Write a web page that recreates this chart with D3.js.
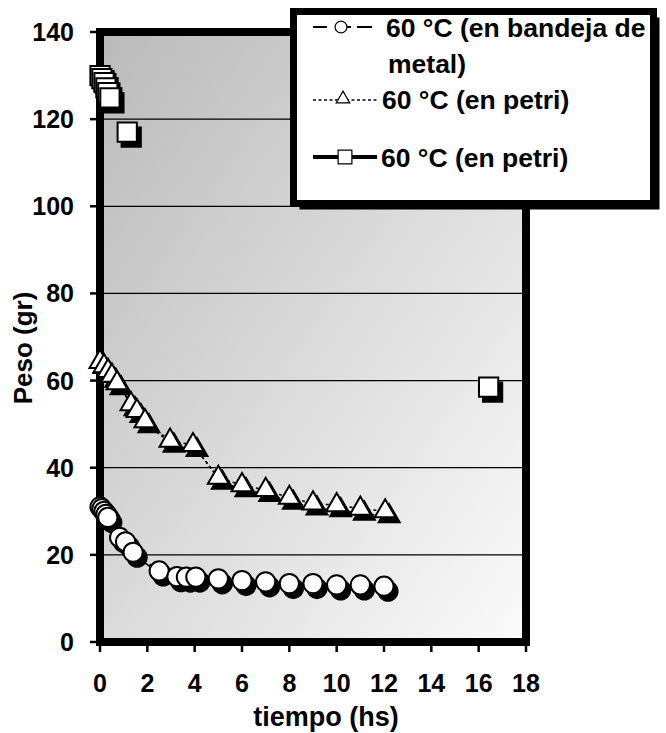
<!DOCTYPE html>
<html>
<head>
<meta charset="utf-8">
<script src="https://cdn.jsdelivr.net/npm/d3@7"></script>
<style>
  body { margin: 0; background: #fff; }
  text { font-family: "Liberation Sans", Arial, sans-serif; font-weight: bold; fill: #000; }
</style>
</head>
<body>
<script>

// 60 °C (en bandeja de metal)
const tiempoMetal = [0, 0.08, 0.17, 0.25, 0.33, 0.83, 1.08, 1.4, 2.5, 3.25, 3.65, 4.05, 5, 6, 7, 8, 9, 10, 11, 12];
const pesoMetal   = [31, 30.6, 30, 29.3, 28.6, 24, 23, 20.6, 16.3, 15, 14.9, 14.9, 14.5, 14.1, 13.8, 13.4, 13.4, 13.1, 13.1, 12.8];

// 60 °C (en petri)
const tiempoPetri = [0, 0.17, 0.34, 0.5, 0.72, 1.31, 1.56, 1.9, 2.96, 3.93, 5, 6, 7, 8, 9, 10, 11, 12.05];
const pesoPetri   = [64.3, 63.3, 62.2, 61.1, 59.4, 54.6, 53, 50.7, 46.2, 45.2, 37.7, 36, 34.9, 33.1, 31.8, 31.4, 30.6, 30];

// 60 °C (en petri), segunda serie
const tiempoPetri2 = [0, 0.08, 0.17, 0.25, 0.33, 0.42, 1.15, 16.42];
const pesoPetri2   = [130, 129.3, 128.4, 127.2, 126.1, 124.9, 117, 58.5];

const xTickValues = [0, 2, 4, 6, 8, 10, 12, 14, 16, 18];
const yTickValues = [0, 20, 40, 60, 80, 100, 120, 140];
const legendLabels = ["60 °C (en bandeja de", "metal)", "60 °C (en petri)", "60 °C (en petri)"];

const width = 666, height = 733;
const plot = { left: 100, right: 526, top: 32, bottom: 642 };

const x = d3.scaleLinear().domain([0, 18]).range([plot.left, plot.right]);
const y = d3.scaleLinear().domain([0, 140]).range([plot.bottom, plot.top]);

const svg = d3.select("body")
  .append("svg")
  .attr("width", width)
  .attr("height", height);

const grad = svg.append("defs")
  .append("linearGradient")
  .attr("id", "bg")
  .attr("x1", 0).attr("y1", 0)
  .attr("x2", 1).attr("y2", 1);
grad.append("stop").attr("offset", "0%").attr("stop-color", "#bababa");
grad.append("stop").attr("offset", "100%").attr("stop-color", "#fbfbfb");

svg.append("rect")
  .attr("x", plot.left)
  .attr("y", plot.top)
  .attr("width", plot.right - plot.left)
  .attr("height", plot.bottom - plot.top)
  .attr("fill", "url(#bg)");

// gridlines
svg.selectAll(".grid")
  .data(yTickValues.filter(d => d > 0 && d < 140))
  .enter()
  .append("line")
  .attr("x1", plot.left)
  .attr("x2", plot.right)
  .attr("y1", d => y(d))
  .attr("y2", d => y(d))
  .attr("stroke", "#000")
  .attr("stroke-width", 1.3);

svg.append("rect")
  .attr("x", plot.left)
  .attr("y", plot.top)
  .attr("width", plot.right - plot.left)
  .attr("height", plot.bottom - plot.top)
  .attr("fill", "none")
  .attr("stroke", "#000")
  .attr("stroke-width", 8);

// ticks + labels
svg.selectAll(".ytick")
  .data(yTickValues)
  .enter()
  .append("line")
  .attr("x1", plot.left - 10)
  .attr("x2", plot.left - 3)
  .attr("y1", d => y(d))
  .attr("y2", d => y(d))
  .attr("stroke", "#000")
  .attr("stroke-width", 2.5);

svg.selectAll(".ylab")
  .data(yTickValues)
  .enter()
  .append("text")
  .attr("x", 74)
  .attr("y", d => y(d))
  .attr("dy", "0.36em")
  .attr("text-anchor", "end")
  .style("font-size", "25px")
  .text(d => d);

svg.selectAll(".xtick")
  .data(xTickValues)
  .enter()
  .append("line")
  .attr("x1", d => x(d))
  .attr("x2", d => x(d))
  .attr("y1", plot.bottom + 3)
  .attr("y2", plot.bottom + 10)
  .attr("stroke", "#000")
  .attr("stroke-width", 2.5);

svg.selectAll(".xlab")
  .data(xTickValues)
  .enter()
  .append("text")
  .attr("x", d => x(d))
  .attr("y", 683)
  .attr("dy", "0.36em")
  .attr("text-anchor", "middle")
  .style("font-size", "25px")
  .text(d => d);

svg.append("text")
  .attr("x", 326)
  .attr("y", 726)
  .attr("text-anchor", "middle")
  .style("font-size", "27px")
  .text("tiempo (hs)");

svg.append("text")
  .attr("transform", "translate(32,348) rotate(-90)")
  .attr("text-anchor", "middle")
  .style("font-size", "26px")
  .text("Peso (gr)");

// series
const circleSym = d3.symbol().type(d3.symbolCircle).size(290);
const triSym = d3.symbol().type(d3.symbolTriangle).size(190);
const squareSym = d3.symbol().type(d3.symbolSquare).size(370);

const line = d3.line()
  .x(d => x(d[0]))
  .y(d => y(d[1]));

const drawSeries = (times, pesos, sym, dash, showLine) => {
  const pts = times.map((t, i) => [t, pesos[i]]);
  const shadow = svg.append("g").attr("transform", "translate(4,5)");
  const main = svg.append("g");

  [shadow, main].forEach((g, k) => {
    if (showLine) {
      g.append("path")
        .attr("d", line(pts))
        .attr("fill", "none")
        .attr("stroke", "#000")
        .attr("stroke-width", 1.5)
        .attr("stroke-dasharray", dash);
    }
    g.selectAll(".mk")
      .data(pts)
      .enter()
      .append("path")
      .attr("d", sym)
      .attr("transform", d => `translate(${x(d[0])},${y(d[1])})`)
      .attr("fill", k === 0 ? "#000" : "#fff")
      .attr("stroke", "#000")
      .attr("stroke-width", 2);
  });
};

drawSeries(tiempoMetal, pesoMetal, circleSym, "10,4,3,4", true);
drawSeries(tiempoPetri, pesoPetri, triSym, "3,3", true);
drawSeries(tiempoPetri2, pesoPetri2, squareSym, null, false);

// legend
const legend = svg.append("g");

legend.append("rect")
  .attr("x", 299.5).attr("y", 17.5)
  .attr("width", 360).attr("height", 192)
  .attr("fill", "#000");

legend.append("rect")
  .attr("x", 293.5).attr("y", 11.5)
  .attr("width", 360).attr("height", 192)
  .attr("fill", "#fff")
  .attr("stroke", "#000")
  .attr("stroke-width", 7);

// sample 1: long dash - circle - dash
[[313, 327], [347, 351], [357, 372]].forEach(s => {
  legend.append("line")
    .attr("x1", s[0]).attr("x2", s[1])
    .attr("y1", 27).attr("y2", 27)
    .attr("stroke", "#000").attr("stroke-width", 2);
});
legend.append("path")
  .attr("d", d3.symbol().type(d3.symbolCircle).size(110))
  .attr("transform", "translate(341,27)")
  .attr("fill", "#fff").attr("stroke", "#000").attr("stroke-width", 1.2);

// sample 2: dotted with triangle
legend.append("line")
  .attr("x1", 313).attr("x2", 378)
  .attr("y1", 100).attr("y2", 100)
  .attr("stroke", "#000").attr("stroke-width", 1.5)
  .attr("stroke-dasharray", "3,2.5");
legend.append("path")
  .attr("d", d3.symbol().type(d3.symbolTriangle).size(80))
  .attr("transform", "translate(343,99)")
  .attr("fill", "#fff").attr("stroke", "#000").attr("stroke-width", 1.2);

// sample 3: thick solid with square
legend.append("line")
  .attr("x1", 313).attr("x2", 377)
  .attr("y1", 157).attr("y2", 157)
  .attr("stroke", "#000").attr("stroke-width", 4);
legend.append("path")
  .attr("d", d3.symbol().type(d3.symbolSquare).size(190))
  .attr("transform", "translate(345,157)")
  .attr("fill", "#fff").attr("stroke", "#000").attr("stroke-width", 1.2);

const legendPos = [[386, 27], [388, 63], [382, 99], [381, 157]];
legend.selectAll(".lt")
  .data(legendLabels)
  .enter()
  .append("text")
  .attr("x", (d, i) => legendPos[i][0])
  .attr("y", (d, i) => legendPos[i][1])
  .attr("dy", "0.36em")
  .style("font-size", "26.5px")
  .text(d => d);

</script>
</body>
</html>
